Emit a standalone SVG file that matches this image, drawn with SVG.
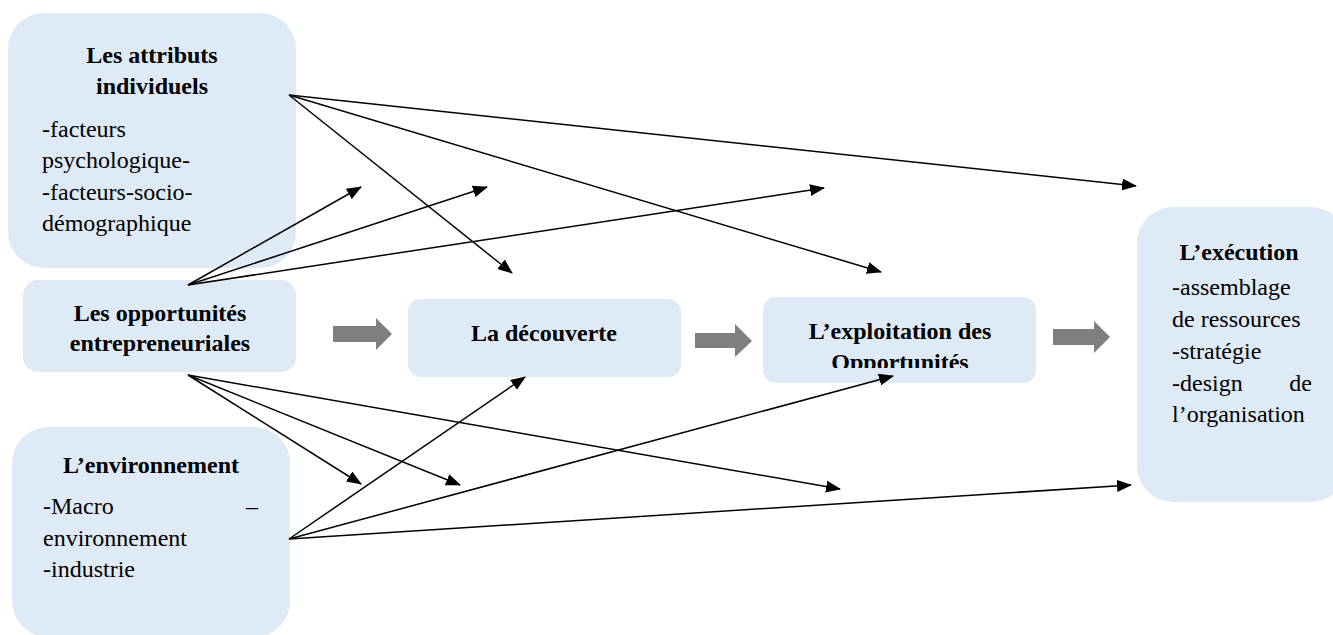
<svg xmlns="http://www.w3.org/2000/svg" width="1333" height="635" viewBox="0 0 1333 635">
  <defs>
    <style>
      .box { fill: #DEEAF6; }
      .h { font-family: "Liberation Serif", "Times New Roman", serif; font-size: 24px; font-weight: bold; fill: #000; text-anchor: middle; }
      .t { font-family: "Liberation Serif", "Times New Roman", serif; font-size: 24px; fill: #000; }
      .conn { stroke: #000; stroke-width: 1.5; fill: none; marker-end: url(#ah); }
      .blk { fill: #7F7F7F; }
    </style>
    <marker id="ah" viewBox="0 0 15 12" refX="14" refY="6" markerWidth="15" markerHeight="12" markerUnits="userSpaceOnUse" orient="auto">
      <path d="M0,0 L15,6 L0,12 z" fill="#000"/>
    </marker>
    <clipPath id="clipE">
      <rect x="763" y="297" width="274" height="71"/>
    </clipPath>
  </defs>

  <g id="node-attributs">
    <rect class="box" x="8" y="13" width="288" height="255" rx="36" ry="36"/>
    <text class="h" x="152" y="63">Les attributs</text>
    <text class="h" x="152" y="94">individuels</text>
    <text class="t" x="42" y="137">-facteurs</text>
    <text class="t" x="42" y="168">psychologique-</text>
    <text class="t" x="42" y="200">-facteurs-socio-</text>
    <text class="t" x="42" y="231">démographique</text>
  </g>

  <g id="node-opportunites">
    <rect class="box" x="23" y="280" width="273" height="92" rx="15" ry="15"/>
    <text class="h" x="160" y="321">Les opportunités</text>
    <text class="h" x="160" y="351">entrepreneuriales</text>
  </g>

  <g id="node-environnement">
    <rect class="box" x="12" y="427" width="278" height="210" rx="36" ry="36"/>
    <text class="h" x="151" y="473">L’environnement</text>
    <text class="t" x="43" y="514">-Macro</text>
    <text class="t" x="258" y="514" text-anchor="end">–</text>
    <text class="t" x="43" y="546">environnement</text>
    <text class="t" x="43" y="577">-industrie</text>
  </g>

  <g id="node-decouverte">
    <rect class="box" x="408" y="299" width="273" height="78" rx="13" ry="13"/>
    <text class="h" x="544" y="341">La découverte</text>
  </g>

  <g id="node-exploitation">
    <rect class="box" x="763" y="297" width="273" height="86" rx="13" ry="13"/>
    <g clip-path="url(#clipE)">
      <text class="h" x="900" y="339">L’exploitation des</text>
      <text class="h" x="900" y="370">Opportunités</text>
    </g>
  </g>

  <g id="node-execution">
    <rect class="box" x="1137" y="207" width="210" height="295" rx="36" ry="36"/>
    <text class="h" x="1239" y="260">L’exécution</text>
    <text class="t" x="1172" y="295">-assemblage</text>
    <text class="t" x="1172" y="327">de ressources</text>
    <text class="t" x="1172" y="359">-stratégie</text>
    <text class="t" x="1172" y="391">-design</text>
    <text class="t" x="1312" y="391" text-anchor="end">de</text>
    <text class="t" x="1172" y="422">l’organisation</text>
  </g>

  <g id="block-arrows">
    <polygon class="blk" points="333,326 376,326 376,318 392,334 376,350 376,342 333,342"/>
    <polygon class="blk" points="695,333 735,333 735,324 752,341 735,357 735,348 695,348"/>
    <polygon class="blk" points="1053,329 1094,329 1094,321 1110,337 1094,353 1094,345 1053,345"/>
  </g>

  <g id="connectors">
    <line class="conn" x1="289" y1="95" x2="1136" y2="186"/>
    <line class="conn" x1="289" y1="95" x2="512" y2="273"/>
    <line class="conn" x1="289" y1="95" x2="881" y2="272"/>
    <line class="conn" x1="188" y1="285" x2="361" y2="187"/>
    <line class="conn" x1="188" y1="285" x2="487" y2="187"/>
    <line class="conn" x1="188" y1="285" x2="824" y2="188"/>
    <line class="conn" x1="188" y1="375" x2="361" y2="484"/>
    <line class="conn" x1="188" y1="375" x2="460" y2="485"/>
    <line class="conn" x1="188" y1="375" x2="840" y2="489"/>
    <line class="conn" x1="289" y1="539" x2="525" y2="377"/>
    <line class="conn" x1="289" y1="539" x2="893" y2="376"/>
    <line class="conn" x1="289" y1="539" x2="1131" y2="485"/>
  </g>
</svg>
